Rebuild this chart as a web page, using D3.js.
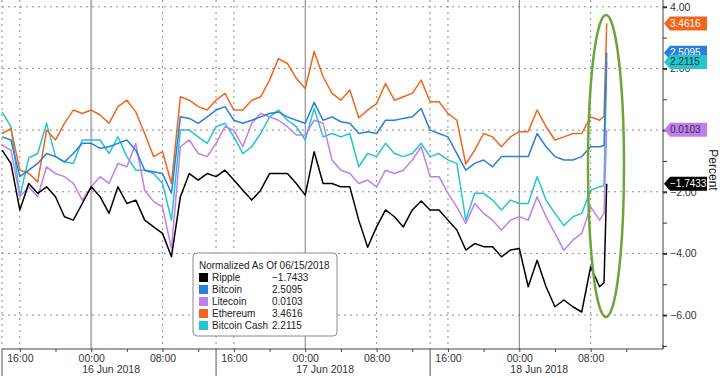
<!DOCTYPE html>
<html>
<head>
<meta charset="utf-8">
<script src="https://cdn.jsdelivr.net/npm/d3@7"></script>
<style>
  body { margin: 0; background: #fff; }
  svg { display: block; font-family: "Liberation Sans", Arial, sans-serif; }
</style>
</head>
<body>
<svg id="chart" width="720" height="378"></svg>
<script>
// hourly readings from 15 Jun 2018 14:00, plus two points for the final jump
var seriesNames = ["Ripple", "Bitcoin", "Litecoin", "Ethereum", "Bitcoin Cash"];
var seriesColors = ["#000000", "#2a7fdc", "#c07ff0", "#f0661c", "#22c6cc"];
var lastValues = [-1.7433, 2.5095, 0.0103, 3.4616, 2.2115];

var ripple = [-0.65, -1.08, -2.59, -1.73, -2.05, -1.84, -2.16, -2.81, -2.92, -2.38,
  -1.84, -2.16, -2.70, -1.84, -2.38, -2.27, -2.92, -3.14, -3.35, -4.11,
  -2.16, -1.41, -1.62, -1.41, -1.51, -1.30, -1.62, -1.95, -2.27, -1.95,
  -1.41, -1.41, -1.41, -1.73, -2.11, -0.70, -1.73, -1.73, -1.84, -1.84,
  -2.92, -3.80, -3.14, -2.59, -2.81, -3.14, -2.59, -2.30, -2.59, -2.59,
  -2.92, -3.24, -3.89, -3.68, -3.78, -3.78, -4.11, -3.89, -3.84, -5.08,
  -4.22, -5.08, -5.73, -5.51, -5.73, -5.90, -4.43, -5.08, -4.95, -1.7433];
var bitcoin = [-0.22, -0.32, -1.51, -1.30, -1.08, -0.76, -0.86, -1.03, -0.76, -0.43,
  -0.43, -0.59, -0.54, -0.43, -0.32, -0.65, -1.30, -1.35, -1.41, -2.05,
  0.43, 0.38, 0.22, 0.43, 0.65, 0.76, 0.32, 0.22, 0.32, 0.43,
  0.54, 0.59, 0.43, 0.32, 0.22, 0.90, 0.32, 0.43, 0.27, 0.22,
  -0.11, -0.05, -0.11, 0.32, 0.32, 0.38, 0.43, 0.70, 0.00, -0.11,
  -0.22, -0.76, -1.30, -1.08, -0.97, -1.19, -0.86, -0.86, -0.86, -0.86,
  -0.11, -0.54, -0.86, -0.97, -0.97, -0.86, -0.54, -0.54, -0.50, 2.5095];
var litecoin = [-0.49, -0.65, -2.16, -1.84, -2.16, -1.19, -1.41, -1.51, -1.73, -2.27,
  -1.84, -1.51, -1.73, -1.08, -1.19, -0.43, -1.95, -2.32, -2.49, -3.85,
  -0.54, -0.32, -0.76, -0.86, -0.43, 0.11, 0.00, -0.54, 0.22, 0.54,
  0.43, 0.32, 0.11, -0.16, -0.16, 0.32, 0.22, -0.97, -1.30, -1.41,
  -1.73, -1.62, -1.84, -1.30, -1.41, -1.30, -0.97, -0.54, -1.51, -1.51,
  -2.05, -2.49, -3.03, -2.38, -2.70, -2.92, -3.24, -2.92, -2.81, -2.92,
  -2.16, -2.81, -3.35, -3.90, -3.57, -3.35, -2.49, -2.92, -2.70, 0.0103];
var ethereum = [-0.11, 0.05, -1.30, -1.40, -1.68, 0.00, -0.32, 0.22, 0.65, 0.54,
  0.65, 0.49, 0.22, 0.76, 0.97, 0.59, -0.11, -0.86, -0.70, -1.73,
  1.08, 0.97, 0.76, 0.65, 0.97, 1.19, 0.65, 0.65, 0.97, 1.08,
  1.62, 2.32, 2.16, 1.68, 1.35, 2.55, 1.73, 1.19, 0.97, 1.30,
  0.40, 0.65, 0.86, 1.51, 0.97, 1.08, 1.19, 1.62, 0.92, 0.92,
  0.54, 0.32, -1.10, -0.65, -0.11, -0.22, -0.54, -0.22, -0.05, -0.05,
  0.65, 0.11, -0.32, -0.22, -0.11, -0.11, 0.43, 0.32, 0.45, 3.4616];
var bitcoinCash = [0.59, 0.11, -2.16, -0.90, -0.76, 0.22, -0.86, -1.03, -1.08, -0.32,
  -0.32, -0.32, -0.76, -0.22, -0.86, -1.30, -1.30, -1.41, -1.73, -2.92,
  0.00, 0.00, -0.22, -0.43, 0.11, 0.22, -0.22, -0.76, -0.54, -0.11,
  0.43, 0.65, 0.32, 0.11, -0.32, 0.70, -0.22, -0.11, -0.22, -0.11,
  -1.19, -0.76, -0.86, -0.43, -0.76, -0.86, -0.76, -0.43, -0.86, -0.76,
  -0.97, -1.08, -2.92, -2.05, -2.05, -2.27, -2.59, -2.27, -2.38, -2.38,
  -1.51, -2.27, -2.70, -3.10, -2.81, -2.70, -1.95, -1.84, -1.80, 2.2115];

var seriesValues = [ripple, bitcoin, litecoin, ethereum, bitcoinCash];
var yTickValues = [4, 2, 0, -2, -4, -6];
var yLabelValues = [4, 2, -2, -4, -6];
var dateLabels = ["16 Jun 2018", "17 Jun 2018", "18 Jun 2018"];

var startTime = new Date(2018, 5, 15, 14, 0);
var hourOffsets = d3.range(68).concat([67.5, 67.8]);
var times = hourOffsets.map(h => new Date(+startTime + h * 3600 * 1000));

var svg = d3.select("#chart");
var plotLeft = 2, plotRight = 663, plotTop = 0, plotBottom = 349;

var xScale = d3.scaleTime()
  .domain([startTime, new Date(2018, 5, 18, 16, 0)])
  .range([plotLeft, 662]);
var yScale = d3.scaleLinear()
  .domain([-7.1, 4.22])
  .range([plotBottom, plotTop]);

// gridlines
var majorTimes = d3.timeHour.every(8).range(new Date(2018, 5, 15, 16), new Date(2018, 5, 18, 9));
var sepTimes = [new Date(2018, 5, 15, 14), new Date(2018, 5, 16, 14), new Date(2018, 5, 17, 14)];
var dashedTimes = majorTimes.filter(d => d.getHours() !== 0).concat(sepTimes);

var grid = svg.append("g");
grid.selectAll(".hgrid").data(yTickValues).enter().append("line")
  .attr("x1", plotLeft).attr("x2", plotRight)
  .attr("y1", d => yScale(d)).attr("y2", d => yScale(d))
  .attr("stroke", "#8c8c8c").attr("stroke-dasharray", "2,4");
grid.selectAll(".vgrid").data(dashedTimes).enter().append("line")
  .attr("x1", d => xScale(d)).attr("x2", d => xScale(d))
  .attr("y1", plotTop).attr("y2", plotBottom)
  .attr("stroke", "#8c8c8c").attr("stroke-dasharray", "2,4");
grid.selectAll(".daygrid").data(majorTimes.filter(d => d.getHours() === 0)).enter().append("line")
  .attr("x1", d => xScale(d)).attr("x2", d => xScale(d))
  .attr("y1", plotTop).attr("y2", plotBottom)
  .attr("stroke", (d, i) => i === 0 ? "#b4b4b4" : "#7a7a7a")
  .attr("stroke-width", (d, i) => i === 0 ? 2 : 1);

// lines
var line = d3.line()
  .x((d, i) => xScale(times[i]))
  .y(d => yScale(d));
[4, 3, 2, 1, 0].forEach(function(k) {
  svg.append("path")
    .datum(seriesValues[k])
    .attr("fill", "none")
    .attr("stroke", seriesColors[k])
    .attr("stroke-width", 1.5)
    .attr("stroke-linejoin", "round")
    .attr("d", line);
});

// x axis
var xAxisG = svg.append("g")
  .attr("transform", `translate(0,${plotBottom})`)
  .call(d3.axisBottom(xScale)
    .tickValues(d3.timeHour.every(4).range(new Date(2018, 5, 15, 16), new Date(2018, 5, 18, 16)))
    .tickSize(3)
    .tickFormat(d => d.getHours() % 8 === 0 ? d3.timeFormat("%H:%M")(d) : ""));
xAxisG.select(".domain").attr("d", `M${plotLeft},0H${plotRight}V-4`).attr("stroke", "#444");
xAxisG.selectAll(".tick line").attr("stroke", "#444");
xAxisG.selectAll(".tick text")
  .attr("y", 6)
  .style("font-family", "Liberation Sans, Arial, sans-serif")
  .style("font-size", "10.5px")
  .attr("fill", "#333");

// separators under the axis
svg.selectAll(".sep").data(sepTimes).enter().append("line")
  .attr("x1", d => xScale(d)).attr("x2", d => xScale(d))
  .attr("y1", plotBottom).attr("y2", 376)
  .attr("stroke", "#555");

svg.selectAll(".datelabel").data(dateLabels).enter().append("text")
  .attr("x", (d, i) => xScale(new Date(2018, 5, 16 + i)) - 9)
  .attr("y", 373)
  .style("font-size", "10.5px")
  .attr("fill", "#333")
  .text(d => d);

// right y axis
var yAxisG = svg.append("g")
  .attr("transform", `translate(${plotRight},0)`)
  .call(d3.axisRight(yScale)
    .tickValues(d3.range(-7, 5, 1))
    .tickSize(4)
    .tickFormat(d => yLabelValues.indexOf(d) >= 0 ? d3.format(".2f")(d) : ""));
yAxisG.select(".domain").attr("d", `M0,${plotTop}V${plotBottom}`).attr("stroke", "#444");
yAxisG.selectAll(".tick line").attr("stroke", "#333").attr("stroke-width", (d) => d % 2 === 0 ? 2 : 1);
yAxisG.selectAll(".tick text")
  .attr("x", 7)
  .style("font-family", "Liberation Sans, Arial, sans-serif")
  .style("font-size", "10.5px")
  .attr("fill", "#333");

svg.append("text")
  .attr("transform", "translate(709,170) rotate(90)")
  .attr("text-anchor", "middle")
  .style("font-size", "12px")
  .attr("fill", "#222")
  .text("Percent");

// value tags on the right
var tagOrder = [1, 4, 2, 0, 3];
var tagText = ["#fff", "#fff", "#333", "#fff", "#133"];
tagOrder.forEach(function(k) {
  var ty = yScale(lastValues[k]);
  var x0 = plotRight + 1, x1 = 707;
  svg.append("path")
    .attr("d", `M${x0},${ty}L${x0 + 6},${ty - 7}H${x1}V${ty + 7}H${x0 + 6}Z`)
    .attr("fill", seriesColors[k]);
  svg.append("text")
    .attr("x", x0 + 6)
    .attr("y", ty + 3.5)
    .style("font-size", "10px")
    .attr("fill", tagText[k])
    .text(d3.format(".4f")(lastValues[k]));
});

// green highlight ellipse
svg.append("ellipse")
  .attr("cx", 606).attr("cy", 166)
  .attr("rx", 18).attr("ry", 151)
  .attr("fill", "none")
  .attr("stroke", "#6aa63a")
  .attr("stroke-width", 2.5);

// legend
var legend = svg.append("g").attr("transform", "translate(193,253)");
legend.append("rect")
  .attr("width", 144).attr("height", 83)
  .attr("rx", 4)
  .attr("fill", "#fff")
  .attr("stroke", "#8a8a8a");
legend.append("text")
  .attr("x", 6).attr("y", 16)
  .style("font-size", "10px")
  .attr("fill", "#222")
  .text("Normalized As Of 06/15/2018");
var rows = legend.selectAll(".row").data(seriesNames).enter().append("g")
  .attr("transform", (d, i) => `translate(0,${28 + i * 12})`);
rows.append("rect")
  .attr("x", 6).attr("y", -8)
  .attr("width", 9).attr("height", 9)
  .attr("fill", (d, i) => seriesColors[i]);
rows.append("text")
  .attr("x", 19).attr("y", 0)
  .style("font-size", "10px")
  .attr("fill", "#222")
  .text(d => d);
rows.append("text")
  .attr("x", 79).attr("y", 0)
  .style("font-size", "10px")
  .attr("fill", "#222")
  .text((d, i) => d3.format(".4f")(lastValues[i]));
</script>
</body>
</html>
